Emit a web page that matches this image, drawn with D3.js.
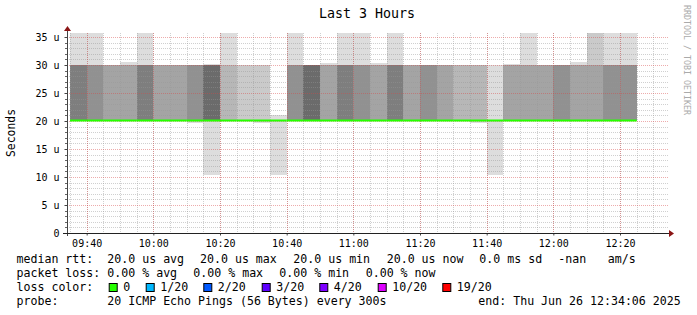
<!DOCTYPE html>
<html>
<head>
<meta charset="utf-8">
<script src="https://cdn.jsdelivr.net/npm/d3@7"></script>
<style>
  body { margin: 0; background: #fff; }
  text { font-family: "DejaVu Sans Mono", monospace; }
</style>
</head>
<body>
<svg id="chart"></svg>
<script>
// end time of every 5 minute step (UTC, 2025-06-26)
var stepEnd = ["09:40","09:45","09:50","09:55","10:00","10:05","10:10","10:15","10:20","10:25",
               "10:30","10:35","10:40","10:45","10:50","10:55","11:00","11:05","11:10","11:15",
               "11:20","11:25","11:30","11:35","11:40","11:45","11:50","11:55","12:00","12:05",
               "12:10","12:15","12:20","12:25"];

// median rtt per step (microseconds)
var medianRtt = [20,20,20,20,20,20,20,20,20,20,20,20,20,20,20,20,20,20,20,20,
                 20,20,20,20,20,20,20,20,20,20,20,20,20,20];
// lost pings per step (out of 20)
var lossCount = [0,0,0,0,0,0,0,0,0,0,0,0,0,0,0,0,0,0,0,0,0,0,0,0,0,0,0,0,0,0,0,0,0,0];
// slowest ping per step, and how many pings reached it
var maxRtt = [40,40,30,30.6,40,30,30,30,30.2,40,30,30,21,40,30,30.3,40,40,30.3,40,
              30,30,30,30,30,30,30.2,40,30,30,30.6,40,40,40];
var maxCount = [1,1,1,1,1,1,1,1,1,1,1,1,1,1,1,1,1,1,1,1,1,1,1,1,1,1,1,1,1,1,1,2,1,1];
// pings at the upper level (30 us) per step
var slowRtt = [30,30,30,30,30,30,30,30,30,30,30,30,30,30,30,30,30,30,30,30,
               30,30,30,30,30,30,30,30,30,30,30,30,30,30];
var slowCount = [6,5,4,4,6,4,4,5,7,3,2,2,0,5,7,4,6,5,4,6,4,5,4,3,3,1,4,4,4,5,4,4,5,5];
// fastest ping per step
var minRtt = [20,20,20,20,20,20,20,19.7,10.3,20,20,19.7,10.3,20,20,20,20,20,20,20,
              20,20,20,20,19.6,10.3,20,20,20,20,20,20,20,20];

var yTicks = [0,5,10,15,20,25,30,35];

var lossLabels = ["0","1/20","2/20","3/20","4/20","10/20","19/20"];
var lossColors = ["#26ff00","#00b8ff","#0059ff","#5e00ff","#7e00ff","#dd00ff","#ff0000"];

var rttStats = ["20.0 us avg","20.0 us max","20.0 us min","20.0 us now","0.0 ms sd","-nan","am/s"];
var lossStats = ["0.00 % avg","0.00 % max","0.00 % min","0.00 % now"];

var pings = 20;
var width = 697, height = 315;
var plotLeft = 67, plotRight = 667, plotTop = 33, plotBottom = 233;

var svg = d3.select('#chart')
    .attr('width', width)
    .attr('height', height);

svg.append('rect').attr('width', width).attr('height', height).attr('fill', '#fff');

var parseTime = d3.utcParse('%Y-%m-%d %H:%M:%S');
var tEnd = parseTime('2025-06-26 12:34:06');
var tStart = d3.utcHour.offset(tEnd, -3);

var x = d3.scaleUtc().domain([tStart, tEnd]).range([plotLeft, plotRight]);
var y = d3.scaleLinear().domain([0, 200 / 5.6]).range([plotBottom, plotTop]).clamp(true);

// rank the pings of one step, lowest first
function ranked(i) {
    var p = d3.range(pings).map(function() { return medianRtt[i]; });
    p[0] = minRtt[i];
    for (var j = 0; j < slowCount[i]; j++) p[pings - 1 - j] = slowRtt[i];
    for (var k = 0; k < maxCount[i]; k++) p[pings - 1 - k] = maxRtt[i];
    return p;
}

var steps = stepEnd.map(function(s, i) {
    var t1 = parseTime('2025-06-26 ' + s + ':00');
    var t0 = d3.max([tStart, d3.utcMinute.offset(t1, -5)]);
    return { t0: t0, t1: t1, i: i };
});

// smoke: one grey band per pair of ranked pings, inner pairs darker
var smoke = svg.append('g').attr('shape-rendering', 'crispEdges');
var half = pings / 2;
steps.forEach(function(d) {
    var p = ranked(d.i);
    for (var b = 0; b < half; b++) {
        var lo = p[b], hi = p[pings - 1 - b];
        if (hi <= lo) continue;
        var g = Math.floor(190 / half * (half - (b + 1))) + 50;
        smoke.append('rect')
            .attr('x', Math.round(x(d.t0)))
            .attr('width', Math.round(x(d.t1)) - Math.round(x(d.t0)))
            .attr('y', y(hi))
            .attr('height', y(lo) - y(hi))
            .attr('fill', d3.rgb(g, g, g));
    }
});

// grid
var grid = svg.append('g').attr('stroke-dasharray', '1,1').attr('stroke-width', 1);
var minorX = d3.utcMinute.every(5).range(tStart, tEnd);
var majorX = d3.utcMinute.every(20).range(tStart, tEnd);
var minorY = d3.range(1, 36).filter(function(v) { return v % 5 !== 0; });

grid.selectAll('.mx').data(minorX).enter().append('line')
    .attr('x1', function(d) { return Math.round(x(d)) + 0.5; })
    .attr('x2', function(d) { return Math.round(x(d)) + 0.5; })
    .attr('y1', plotTop).attr('y2', plotBottom)
    .attr('stroke', 'rgba(150,150,150,0.45)');
grid.selectAll('.my').data(minorY).enter().append('line')
    .attr('x1', plotLeft).attr('x2', plotRight + 2)
    .attr('y1', function(d) { return Math.round(y(d)) + 0.5; })
    .attr('y2', function(d) { return Math.round(y(d)) + 0.5; })
    .attr('stroke', 'rgba(150,150,150,0.45)');
grid.selectAll('.Mx').data(majorX).enter().append('line')
    .attr('x1', function(d) { return Math.round(x(d)) + 0.5; })
    .attr('x2', function(d) { return Math.round(x(d)) + 0.5; })
    .attr('y1', plotTop).attr('y2', plotBottom)
    .attr('stroke', 'rgba(215,70,70,0.45)');
grid.selectAll('.My').data(yTicks.slice(1)).enter().append('line')
    .attr('x1', plotLeft).attr('x2', plotRight + 2)
    .attr('y1', function(d) { return Math.round(y(d)) + 0.5; })
    .attr('y2', function(d) { return Math.round(y(d)) + 0.5; })
    .attr('stroke', 'rgba(215,70,70,0.45)');

// median line, coloured by loss
svg.append('g').selectAll('line').data(steps).enter().append('line')
    .attr('x1', function(d) { return x(d.t0); })
    .attr('x2', function(d) { return x(d.t1); })
    .attr('y1', function(d) { return y(medianRtt[d.i]) - 0.5; })
    .attr('y2', function(d) { return y(medianRtt[d.i]) - 0.5; })
    .attr('stroke', function(d) { return lossColors[lossCount[d.i]]; })
    .attr('stroke-width', 2);

// y axis
var yAxis = d3.axisLeft(y)
    .tickValues(yTicks)
    .tickSize(3)
    .tickPadding(5)
    .tickFormat(function(d) { return d === 0 ? '0' : d + ' u'; });
var gy = svg.append('g').attr('transform', 'translate(' + (plotLeft + 0.5) + ',0)').call(yAxis);
gy.select('.domain').remove();
gy.selectAll('line').attr('stroke', '#444');
gy.selectAll('text').attr('font-size', '10px').attr('fill', '#000').attr('dy', '0.35em');
svg.append('g').selectAll('line').data(minorY).enter().append('line')
    .attr('x1', plotLeft - 2).attr('x2', plotLeft)
    .attr('y1', function(d) { return Math.round(y(d)) + 0.5; })
    .attr('y2', function(d) { return Math.round(y(d)) + 0.5; })
    .attr('stroke', '#666');

// x axis
var xAxis = d3.axisBottom(x)
    .tickValues(majorX)
    .tickSize(2)
    .tickPadding(4)
    .tickFormat(d3.utcFormat('%H:%M'));
var gx = svg.append('g').attr('transform', 'translate(0,' + (plotBottom + 0.5) + ')').call(xAxis);
gx.select('.domain').remove();
gx.selectAll('line').attr('stroke', '#444');
gx.selectAll('text').attr('font-size', '10px').attr('fill', '#000');

svg.append('line').attr('x1', plotLeft + 0.5).attr('x2', plotLeft + 0.5)
    .attr('y1', plotBottom + 3).attr('y2', 29).attr('stroke', '#444');
svg.append('line').attr('x1', plotLeft - 4).attr('x2', 670)
    .attr('y1', plotBottom + 0.5).attr('y2', plotBottom + 0.5).attr('stroke', '#222');
svg.append('path').attr('d', 'M64,31L71,31L67.5,26Z').attr('fill', '#8b1515');
svg.append('path').attr('d', 'M669,230L669,237L674,233.5Z').attr('fill', '#8b1515');

// titles
svg.append('text').attr('x', 367).attr('y', 18).attr('text-anchor', 'middle')
    .attr('font-size', '13.3px').text('Last 3 Hours');
svg.append('text').attr('transform', 'translate(15,133) rotate(-90)')
    .attr('text-anchor', 'middle').attr('font-size', '11.4px').text('Seconds');
svg.append('text').attr('transform', 'translate(684,60) rotate(90)')
    .attr('text-anchor', 'middle').attr('font-size', '8.3px').attr('fill', '#aaa')
    .text('RRDTOOL / TOBI OETIKER');

// legend
var legend = svg.append('g').attr('font-size', '11.6px').attr('fill', '#000');
var rows = [262.7, 276.7, 290.7, 304.7];
legend.append('text').attr('x', 16.5).attr('y', rows[0]).text('median rtt:');
legend.append('text').attr('x', 16.5).attr('y', rows[1]).text('packet loss:');
legend.append('text').attr('x', 16.5).attr('y', rows[2]).text('loss color:');
legend.append('text').attr('x', 16.5).attr('y', rows[3]).text('probe:');

var rttX = [107.3, 200, 293.3, 386.7, 479.3, 558.3, 607.7];
legend.selectAll('.rtt').data(rttStats).enter().append('text')
    .attr('x', function(d, i) { return rttX[i]; })
    .attr('y', rows[0]).text(function(d) { return d; });

var lossX = [107.3, 193.3, 279.3, 365.7];
legend.selectAll('.loss').data(lossStats).enter().append('text')
    .attr('x', function(d, i) { return lossX[i]; })
    .attr('y', rows[1]).text(function(d) { return d; });

var boxX = [108.7, 145.7, 203.3, 261.7, 319.3, 377.7, 442.3];
var swatch = legend.selectAll('.sw').data(lossLabels).enter().append('g');
swatch.append('rect')
    .attr('x', function(d, i) { return boxX[i] + 0.5; })
    .attr('y', 283.5)
    .attr('width', 8).attr('height', 8)
    .attr('fill', function(d, i) { return lossColors[i]; })
    .attr('stroke', '#000').attr('stroke-width', 1);
swatch.append('text')
    .attr('x', function(d, i) { return boxX[i] + 14.5; })
    .attr('y', rows[2]).text(function(d) { return d; });

legend.append('text').attr('x', 107.3).attr('y', rows[3])
    .text('20 ICMP Echo Pings (56 Bytes) every 300s');
legend.append('text').attr('x', 478.3).attr('y', rows[3])
    .text('end: Thu Jun 26 12:34:06 2025');
</script>
</body>
</html>
